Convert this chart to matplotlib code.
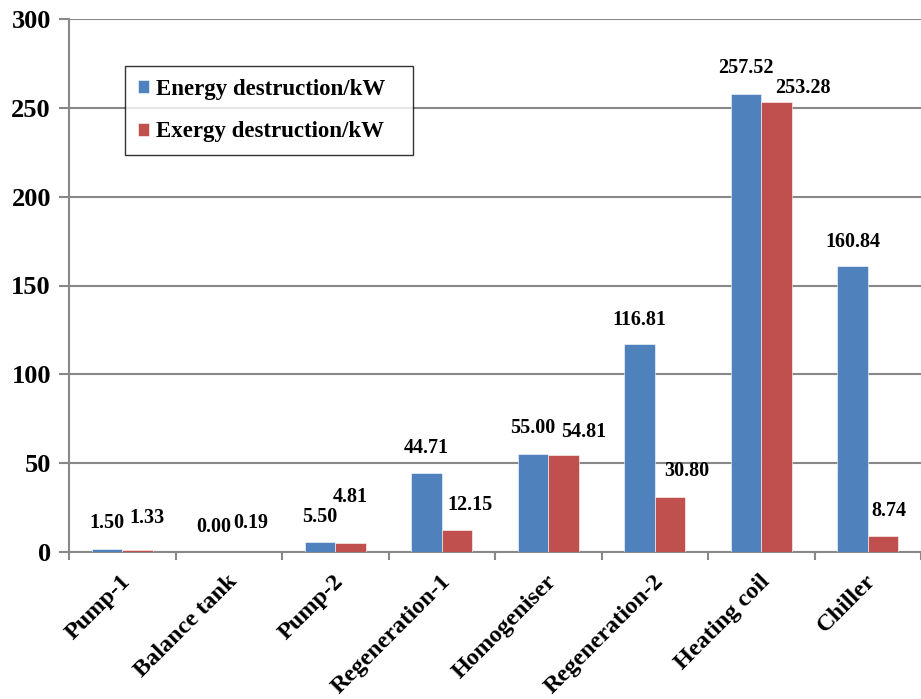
import matplotlib
matplotlib.use("Agg")
import matplotlib.pyplot as plt
import numpy as np

# Component-wise energy and exergy destruction
components = ["Pump-1", "Balance tank", "Pump-2", "Regeneration-1", "Homogeniser",
              "Regeneration-2", "Heating coil", "Chiller"]
energy_destruction = [1.50, 0.00, 5.50, 44.71, 55.00, 116.81, 257.52, 160.84]
exergy_destruction = [1.33, 0.19, 4.81, 12.15, 54.81, 30.80, 253.28, 8.74]

series_names = ["Energy destruction/kW", "Exergy destruction/kW"]
y_ticks = [0, 50, 100, 150, 200, 250, 300]

# Label nudges in pixels (dx, dy above bar top)
energy_label_offsets = [(0, 26), (0, 25), (0, 25), (0, 25), (0, 26), (0, 24), (0, 26), (0, 24)]
exergy_label_offsets = [(9, 32), (7, 29), (0, 46), (13, 25), (20, 23), (17, 26), (26, 14), (6, 25)]

BLUE = "#4F81BD"
RED = "#C0504D"
GRID = "#888888"

plt.rcParams["font.family"] = ["Liberation Serif", "DejaVu Serif"]
plt.rcParams["font.weight"] = "bold"

fig = plt.figure(figsize=(9.21, 6.99), dpi=100)
ax = fig.add_axes([69 / 921, 1 - 552 / 699, 852 / 921, 533 / 699])

x = np.arange(len(components))
w = 0.2865
bars_e = ax.bar(x - w / 2, energy_destruction, w, color=BLUE, edgecolor="white",
                linewidth=0.4, label=series_names[0], zorder=3)
bars_x = ax.bar(x + w / 2, exergy_destruction, w, color=RED, edgecolor="white",
                linewidth=0.4, label=series_names[1], zorder=3)

for bars, vals, offs in ((bars_e, energy_destruction, energy_label_offsets),
                         (bars_x, exergy_destruction, exergy_label_offsets)):
    for b, v, (dx, dy) in zip(bars, vals, offs):
        ax.annotate(f"{v:.2f}", (b.get_x() + b.get_width() / 2, v),
                    xytext=(dx, dy), textcoords="offset pixels",
                    ha="center", va="center", fontsize=14.5, fontweight="bold",
                    zorder=5)

ax.set_xlim(-0.5, len(components) - 0.5)
ax.set_ylim(0, 300)
ax.set_yticks(y_ticks)
ax.set_yticklabels([str(t) for t in y_ticks], fontsize=19, fontweight="bold")
ax.yaxis.grid(True, color=GRID, linewidth=1.5, zorder=0)
ax.set_axisbelow(True)

# Category names, rotated 45 degrees, baseline ending just right of each centre
ax.set_xticks(x)
ax.set_xticklabels([])
ax.tick_params(axis="x", which="major", length=0)
for i, name in enumerate(components):
    ax.annotate(name, xy=(i, 0), xycoords=("data", "axes fraction"),
                xytext=(9, -30), textcoords="offset pixels",
                rotation=45, rotation_mode="anchor", ha="right", va="baseline",
                fontsize=17.5, fontweight="bold")

ax.set_xticks(np.arange(-0.5, len(components)), minor=True)
ax.tick_params(axis="x", which="minor", length=6, width=1.5, color=GRID, direction="out")
ax.tick_params(axis="y", length=7, width=1.5, color=GRID, pad=6)

for s in ("top", "right"):
    ax.spines[s].set_visible(False)
for s in ("left", "bottom"):
    ax.spines[s].set_color(GRID)
    ax.spines[s].set_linewidth(1.5)

leg = ax.legend(loc="upper left", mode="expand",
                bbox_to_anchor=(56 / 852, 1 - 47 / 533, 288 / 852, 0.0),
                frameon=True, fancybox=False, fontsize=16.5, handlelength=0.5,
                handleheight=0.5, handletextpad=0.3, labelspacing=0.95,
                borderpad=0.55, borderaxespad=0)
leg.get_frame().set_edgecolor("black")
leg.get_frame().set_linewidth(1.0)
for t in leg.get_texts():
    t.set_fontweight("bold")

fig.savefig("out.png", dpi=100, facecolor="white")
